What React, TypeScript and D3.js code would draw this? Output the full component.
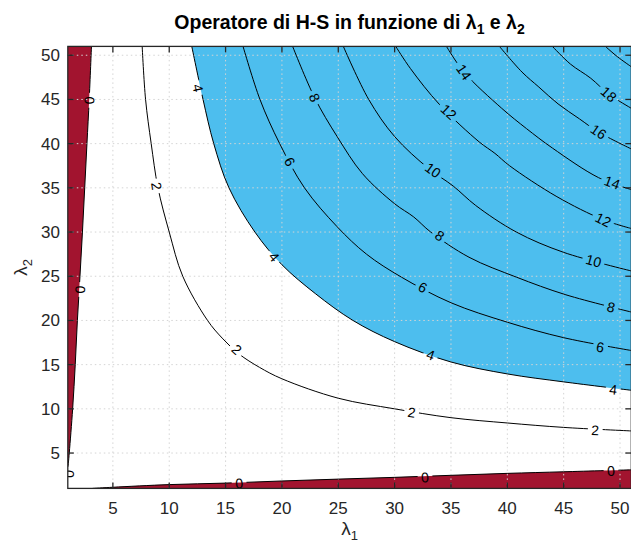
import React, { useEffect, useRef } from "react";
import * as d3 from "d3";

type Pt = [number, number];

// tick values (same on both axes)
const xTicks = [5, 10, 15, 20, 25, 30, 35, 40, 45, 50];
const yTicks = [5, 10, 15, 20, 25, 30, 35, 40, 45, 50];

// contour lines, as [lambda1, lambda2]
const zeroLeft: Pt[] = [[1, 3.2], [1.13, 5], [1.43, 10], [1.66, 15], [1.85, 20], [2.08, 25], [2.3, 30], [2.5, 35], [2.7, 40], [2.9, 45], [3.1, 51]];
const zeroBottom: Pt[] = [[3.2, 1], [5, 1.13], [10, 1.43], [15, 1.6], [20, 1.84], [25, 2.05], [30, 2.25], [35, 2.48], [40, 2.7], [45, 2.88], [51, 3.1]];
const two: Pt[] = [[7.6, 51], [7.9, 45], [8.4, 40], [9.0, 35], [10.0, 30], [11.2, 25], [13.4, 20], [14.7, 18], [16.2, 16.2], [18, 14.7], [20, 13.4], [25, 11.2], [30, 10.0], [35, 9.0], [40, 8.4], [45, 7.9], [51, 7.5]];
const four: Pt[] = [[12.0, 51], [13.0, 45], [13.95, 40], [15.3, 35], [17.6, 30], [20, 26.3], [23, 23], [26.3, 20], [30, 17.6], [35, 15.3], [40, 13.95], [45, 13.05], [51, 12.1]];
const six: Pt[] = [[16.55, 51], [18.05, 45], [19.8, 40], [22.0, 35], [24.9, 30.6], [27.5, 27.5], [30.6, 24.9], [35, 22.0], [40, 19.8], [45, 18.05], [51, 16.6]];
const eight: Pt[] = [[20.95, 51], [22.9, 45.2], [24.9, 40.8], [27.15, 36.6], [30, 33.2], [31.7, 31.7], [33.2, 30], [36.6, 27.15], [40.8, 24.9], [45.2, 22.9], [51, 20.95]];
const ten: Pt[] = [[25.45, 51], [27.7, 45.0], [30, 40.8], [33.0, 37.2], [35.2, 35.2], [37.2, 33.0], [40.8, 30], [45.0, 27.7], [51, 25.6]];
const twelve: Pt[] = [[30.1, 51], [31.4, 48.5], [34.0, 44.4], [37.5, 40.2], [38.9, 38.9], [40.2, 37.5], [44.4, 34.0], [48.5, 31.4], [51, 30.4]];
const fourteen: Pt[] = [[34.6, 51], [36.15, 48.1], [39.5, 44.0], [41.7, 41.7], [44.0, 39.5], [48.1, 36.15], [51, 34.8]];
const sixteen: Pt[] = [[39.3, 51], [41.3, 48.1], [42.8, 46.4], [44.5, 44.5], [46.4, 42.8], [48.1, 41.3], [51, 39.4]];
const eighteen: Pt[] = [[44.0, 51], [45.6, 49.0], [47.4, 47.4], [49.0, 45.6], [51, 44.0]];
const twenty: Pt[] = [[48.7, 51], [49.8, 49.8], [51, 48.7]];

const contours: { level: number; pts: Pt[] }[] = [
  { level: 0, pts: zeroLeft },
  { level: 0, pts: zeroBottom },
  { level: 2, pts: two },
  { level: 4, pts: four },
  { level: 6, pts: six },
  { level: 8, pts: eight },
  { level: 10, pts: ten },
  { level: 12, pts: twelve },
  { level: 14, pts: fourteen },
  { level: 16, pts: sixteen },
  { level: 18, pts: eighteen },
  { level: 20, pts: twenty },
];

// contour labels: [level, lambda1, lambda2]
const labelSpots: [number, number, number][] = [
  [0, 2.9, 44.9], [0, 2.08, 23.5], [0, 1.1, 2.63], [0, 16.2, 1.58], [0, 32.7, 2.26], [0, 49.2, 3.0],
  [2, 8.87, 35.2], [2, 16.0, 16.7], [2, 31.5, 9.6], [2, 47.8, 7.6],
  [4, 12.55, 46.3], [4, 19.3, 27.2], [4, 33.2, 16.1], [4, 49.4, 12.2],
  [6, 20.7, 37.95], [6, 32.5, 23.75], [6, 48.25, 17.0],
  [8, 22.9, 45.2], [8, 34.0, 29.6], [8, 49.2, 21.5],
  [10, 33.4, 37.0], [10, 47.65, 26.75],
  [12, 34.8, 43.6], [12, 48.5, 31.4],
  [14, 36.15, 48.1], [14, 49.3, 35.6],
  [16, 48.1, 41.35],
  [18, 49.0, 45.6],
];

const RED = "#A2142F";
const BLUE = "#4DBEEE";
const AXIS = "#262626";
const FONT = "'Liberation Sans', Arial, Helvetica, sans-serif";

function App() {
  const ref = useRef<SVGSVGElement>(null);

  useEffect(() => {
    const W = 631;
    const H = 547;
    const svg = d3.select(ref.current);
    svg.selectAll("*").remove();

    const x = d3.scaleLinear().domain([1, 51]).range([67.8, 631.3]);
    const y = d3.scaleLinear().domain([1, 51]).range([488.4, 46.4]);
    const line = d3
      .line<Pt>()
      .x((d) => x(d[0]))
      .y((d) => y(d[1]))
      .curve(d3.curveCatmullRom.alpha(0.5));

    const defs = svg.append("defs");
    defs
      .append("clipPath")
      .attr("id", "plotclip")
      .append("rect")
      .attr("x", x(1))
      .attr("y", y(51))
      .attr("width", x(51) - x(1))
      .attr("height", y(1) - y(51));

    const plot = svg.append("g").attr("clip-path", "url(#plotclip)");

    // filled regions
    plot
      .append("path")
      .attr("d", line(four) + `L${x(51)},${y(51)}Z`)
      .attr("fill", BLUE);
    plot
      .append("path")
      .attr("d", line(zeroLeft) + `L${x(1)},${y(51)}Z`)
      .attr("fill", RED);
    plot
      .append("path")
      .attr("d", line(zeroBottom) + `L${x(51)},${y(1)}Z`)
      .attr("fill", RED);

    // grid
    const grid = plot
      .append("g")
      .attr("stroke", "#d4d4d4")
      .attr("stroke-width", 1)
      .attr("stroke-dasharray", "1.5,3");
    grid
      .selectAll("line.gx")
      .data(xTicks)
      .enter()
      .append("line")
      .attr("x1", (d) => x(d))
      .attr("x2", (d) => x(d))
      .attr("y1", y(51))
      .attr("y2", y(1));
    grid
      .selectAll("line.gy")
      .data(yTicks)
      .enter()
      .append("line")
      .attr("x1", x(1))
      .attr("x2", x(51))
      .attr("y1", (d) => y(d))
      .attr("y2", (d) => y(d));

    // label placement: angle from nearest contour segment
    const fs = 14;
    const labels = labelSpots.map(([level, a, b]) => {
      const px = x(a);
      const py = y(b);
      let best = Infinity;
      let ang = 0;
      contours
        .filter((c) => c.level === level)
        .forEach((c) => {
          for (let i = 0; i < c.pts.length - 1; i++) {
            const x1 = x(c.pts[i][0]), y1 = y(c.pts[i][1]);
            const x2 = x(c.pts[i + 1][0]), y2 = y(c.pts[i + 1][1]);
            const dx = x2 - x1, dy = y2 - y1;
            const t = Math.max(0, Math.min(1, ((px - x1) * dx + (py - y1) * dy) / (dx * dx + dy * dy)));
            const dist = Math.hypot(px - (x1 + t * dx), py - (y1 + t * dy));
            if (dist < best) {
              best = dist;
              ang = (Math.atan2(dy, dx) * 180) / Math.PI;
            }
          }
        });
      if (ang > 90) ang -= 180;
      if (ang <= -90) ang += 180;
      const text = String(level);
      return { px, py, ang, text, w: text.length * fs * 0.556 + 7 };
    });

    const mask = defs
      .append("mask")
      .attr("id", "lblmask")
      .attr("maskUnits", "userSpaceOnUse")
      .attr("x", 0)
      .attr("y", 0)
      .attr("width", W)
      .attr("height", H);
    mask.append("rect").attr("width", W).attr("height", H).attr("fill", "white");
    mask
      .selectAll("rect.hole")
      .data(labels)
      .enter()
      .append("rect")
      .attr("x", (d) => -d.w / 2)
      .attr("y", -6)
      .attr("width", (d) => d.w)
      .attr("height", 12)
      .attr("fill", "black")
      .attr("transform", (d) => `translate(${d.px},${d.py}) rotate(${d.ang})`);

    plot
      .append("g")
      .attr("mask", "url(#lblmask)")
      .selectAll("path")
      .data(contours)
      .enter()
      .append("path")
      .attr("d", (d) => line(d.pts))
      .attr("fill", "none")
      .attr("stroke", "#000")
      .attr("stroke-width", 1);

    plot
      .append("g")
      .selectAll("text")
      .data(labels)
      .enter()
      .append("text")
      .attr("transform", (d) => `translate(${d.px},${d.py}) rotate(${d.ang})`)
      .attr("text-anchor", "middle")
      .attr("dy", "0.36em")
      .attr("font-family", FONT)
      .attr("font-size", fs)
      .attr("fill", "#000")
      .text((d) => d.text);

    // axes box and ticks
    const ax = svg.append("g").attr("stroke", AXIS).attr("stroke-width", 1.3);
    ax.append("rect")
      .attr("x", x(1))
      .attr("y", y(51))
      .attr("width", x(51) - x(1))
      .attr("height", y(1) - y(51))
      .attr("fill", "none");
    xTicks.forEach((t) => {
      ax.append("line").attr("x1", x(t)).attr("x2", x(t)).attr("y1", y(1)).attr("y2", y(1) - 6);
      ax.append("line").attr("x1", x(t)).attr("x2", x(t)).attr("y1", y(51)).attr("y2", y(51) + 6);
    });
    yTicks.forEach((t) => {
      ax.append("line").attr("x1", x(1)).attr("x2", x(1) + 6).attr("y1", y(t)).attr("y2", y(t));
      ax.append("line").attr("x1", x(51)).attr("x2", x(51) - 6).attr("y1", y(t)).attr("y2", y(t));
    });

    const tl = svg.append("g").attr("font-family", FONT).attr("font-size", 17).attr("fill", AXIS);
    tl.selectAll("text.xt")
      .data(xTicks)
      .enter()
      .append("text")
      .attr("x", (d) => x(d))
      .attr("y", 514)
      .attr("text-anchor", "middle")
      .text((d) => d);
    tl.selectAll("text.yt")
      .data(yTicks)
      .enter()
      .append("text")
      .attr("x", 60)
      .attr("y", (d) => y(d))
      .attr("dy", "0.35em")
      .attr("text-anchor", "end")
      .text((d) => d);

    // axis labels
    const xl = svg
      .append("text")
      .attr("x", (x(1) + x(51)) / 2)
      .attr("y", 535)
      .attr("text-anchor", "middle")
      .attr("font-family", FONT)
      .attr("font-size", 19)
      .attr("fill", AXIS);
    xl.append("tspan").text("λ");
    xl.append("tspan").attr("font-size", 13).attr("dy", 5).text("1");

    const yl = svg
      .append("text")
      .attr("transform", `translate(27,${(y(1) + y(51)) / 2}) rotate(-90)`)
      .attr("text-anchor", "middle")
      .attr("font-family", FONT)
      .attr("font-size", 19)
      .attr("fill", AXIS);
    yl.append("tspan").text("λ");
    yl.append("tspan").attr("font-size", 13).attr("dy", 5).text("2");

    // title
    const title = svg
      .append("text")
      .attr("x", (x(1) + x(51)) / 2)
      .attr("y", 29)
      .attr("text-anchor", "middle")
      .attr("font-family", FONT)
      .attr("font-size", 19.5)
      .attr("font-weight", "bold")
      .attr("fill", "#000");
    title.append("tspan").text("Operatore di H-S in funzione di λ");
    title.append("tspan").attr("font-size", 14).attr("dy", 5).text("1");
    title.append("tspan").attr("dy", -5).text(" e λ");
    title.append("tspan").attr("font-size", 14).attr("dy", 5).text("2");
  }, []);

  return (
    <svg
      ref={ref}
      width={631}
      height={547}
      style={{ position: "absolute", left: 0, top: 0, background: "#fff" }}
    />
  );
}

export default App;
